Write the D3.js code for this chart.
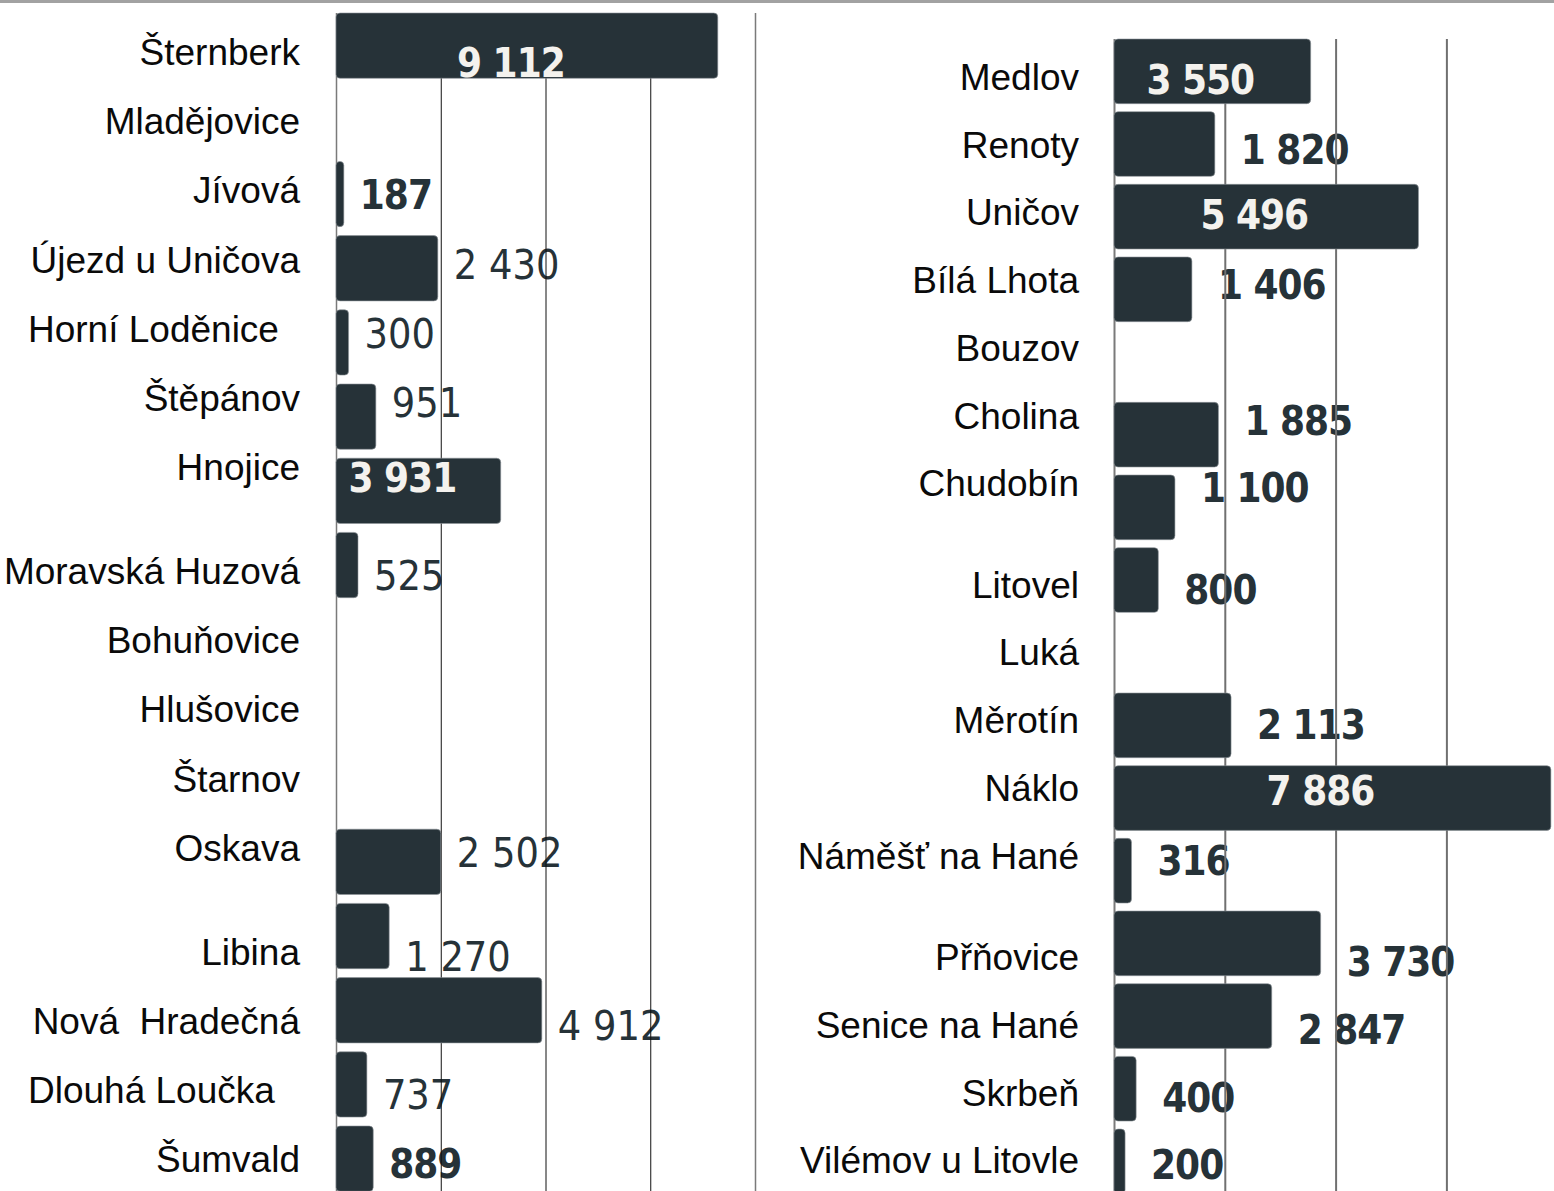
<!DOCTYPE html>
<html>
<head>
<meta charset="utf-8">
<script src="https://cdn.jsdelivr.net/npm/d3@7"></script>
<style>
  html, body { margin: 0; padding: 0; background: #fff; }
  svg { display: block; }
  .cat { font-family: "Liberation Sans", Arial, sans-serif; font-size: 37px; fill: #0a0a0a; white-space: pre; }
  .val { font-family: "DejaVu Sans Condensed", "DejaVu Sans", sans-serif; font-stretch: condensed; }
</style>
</head>
<body>
<div id="chart"></div>
<script>
(function () {

  // Data ---------------------------------------------------------
  const LEFT_NAMES = ["Šternberk", "Mladějovice", "Jívová", "Újezd u Uničova", "Horní Loděnice",
    "Štěpánov", "Hnojice", "Moravská Huzová", "Bohuňovice", "Hlušovice", "Štarnov", "Oskava",
    "Libina", "Nová  Hradečná", "Dlouhá Loučka", "Šumvald"];
  const LEFT_VALUES = [9112, null, 187, 2430, 300, 951, 3931, 525, null, null, null, 2502,
    1270, 4912, 737, 889];
  const LEFT_TICKS = [0, 2500, 5000, 7500, 10000];

  const RIGHT_NAMES = ["Medlov", "Renoty", "Uničov", "Bílá Lhota", "Bouzov", "Cholina",
    "Chudobín", "Litovel", "Luká", "Měrotín", "Náklo", "Náměšť na Hané", "Přňovice",
    "Senice na Hané", "Skrbeň", "Vilémov u Litovle"];
  const RIGHT_VALUES = [3550, 1820, 5496, 1406, null, 1885, 1100, 800, null, 2113, 7886,
    316, 3730, 2847, 400, 200];
  const RIGHT_TICKS = [0, 2000, 4000, 6000, 8000];

  // label styling / layout (not data)
  const LEFT_INSIDE = ["Šternberk", "Hnojice"];
  const LEFT_BOLD = ["Jívová", "Šumvald"];
  const LEFT_LABEL_GAPS = ["Moravská Huzová", "Libina"];
  const LEFT_ALIGNED = ["Horní Loděnice", "Dlouhá Loučka"];
  const RIGHT_INSIDE = ["Medlov", "Uničov", "Náklo"];
  const RIGHT_LABEL_GAPS = ["Litovel", "Přňovice"];

  const W = 1554, H = 1191;
  const BAR = "#263238", WHITE = "#f4f2ee";
  const fmt = d3.formatLocale({ decimal: ",", thousands: " ", grouping: [3], currency: ["", ""] }).format(",d");

  const svg = d3.select("#chart").append("svg")
    .attr("width", W)
    .attr("height", H);

  // top border
  svg.append("rect")
    .attr("x", 0).attr("y", 0)
    .attr("width", W).attr("height", 3)
    .attr("fill", "#a2a2a2");

  const panels = [
    {
      names: LEFT_NAMES, values: LEFT_VALUES, ticks: LEFT_TICKS, max: 10000,
      inside: LEFT_INSIDE, bold: d => LEFT_BOLD.includes(d), gaps: LEFT_LABEL_GAPS, leftAligned: LEFT_ALIGNED,
      x0: 336, x1: 755, barTop: 13, step: 74.2, pad: 0.12,
      labelTop: 52, labelStep: 69.2, labelRight: 300, labelLeft: 28, gap: 16,
      insideDy: 25, insideDx: -16,
      grid: "#111", gridW: 1, edge: "#7a7a7a", edgeW: 1.5
    },
    {
      names: RIGHT_NAMES, values: RIGHT_VALUES, ticks: RIGHT_TICKS, max: 8000,
      inside: RIGHT_INSIDE, bold: () => true, gaps: RIGHT_LABEL_GAPS, leftAligned: [],
      x0: 1114, x1: 1557.2, barTop: 39, step: 72.67, pad: 0.11,
      labelTop: 77, labelStep: 67.7, labelRight: 1079, labelLeft: 0, gap: 26,
      insideDy: 17, insideDx: -12,
      grid: "#707070", gridW: 2, edge: "#7a7a7a", edgeW: 2
    }
  ];

  panels.forEach(drawPanel);

  function drawPanel(p) {
    const g = svg.append("g");
    const rows = p.names.map((name, i) => ({ name, value: p.values[i] }));

    const x = d3.scaleLinear().domain([0, p.max]).range([p.x0, p.x1]);

    const off = p.pad / 2 * p.step;
    const y = d3.scaleBand()
      .domain(p.names)
      .range([p.barTop - off, p.barTop - off + p.names.length * p.step])
      .paddingInner(p.pad)
      .paddingOuter(p.pad / 2);

    // label rows: own spacing with half-row breaks
    let slot = -1;
    const slots = new Map();
    p.names.forEach(n => {
      slot += p.gaps.includes(n) ? 1.5 : 1;
      slots.set(n, slot);
    });
    const ly = d3.scaleLinear().domain([0, 1]).range([p.labelTop, p.labelTop + p.labelStep]);
    const rowY = n => ly(slots.get(n));

    // category labels
    g.selectAll("text.cat")
      .data(rows)
      .enter()
      .append("text")
      .attr("class", "cat")
      .attr("xml:space", "preserve")
      .attr("x", d => p.leftAligned.includes(d.name) ? p.labelLeft : p.labelRight)
      .attr("y", d => rowY(d.name) + 13)
      .attr("text-anchor", d => p.leftAligned.includes(d.name) ? "start" : "end")
      .text(d => d.name);

    const withVal = rows.filter(d => d.value != null);
    const outside = withVal.filter(d => !p.inside.includes(d.name));
    const inside = withVal.filter(d => p.inside.includes(d.name));

    // outside value labels (under the grid lines)
    g.selectAll("text.out")
      .data(outside)
      .enter()
      .append("text")
      .attr("class", "val out")
      .attr("x", d => x(d.value) + p.gap)
      .attr("y", d => rowY(d.name) + 4 + (p.bold(d.name) ? 15 : 15))
      .style("font-size", d => p.bold(d.name) ? "40px" : "41px")
      .style("font-weight", d => p.bold(d.name) ? 700 : 400)
      .style("letter-spacing", d => p.bold(d.name) ? "-1px" : "0px")
      .attr("fill", BAR)
      .text(d => fmt(d.value));

    // grid lines
    const axis = d3.axisBottom(x)
      .tickValues(p.ticks)
      .tickSize(-(H - p.barTop))
      .tickFormat("");
    g.append("g")
      .attr("transform", `translate(0,${H})`)
      .call(axis)
      .call(a => a.select(".domain").remove())
      .selectAll(".tick line")
      .attr("stroke", d => (d === 0 || d === p.max) ? p.edge : p.grid)
      .attr("stroke-width", d => (d === 0 || d === p.max) ? p.edgeW : p.gridW);

    // bars
    g.selectAll("rect.bar")
      .data(withVal)
      .enter()
      .append("rect")
      .attr("class", "bar")
      .attr("x", x(0))
      .attr("y", d => y(d.name))
      .attr("width", d => x(d.value) - x(0))
      .attr("height", y.bandwidth())
      .attr("rx", 4)
      .attr("fill", BAR)
      .attr("stroke", "#8d9599")
      .attr("stroke-opacity", 0.6)
      .attr("stroke-width", 1);

    // values inside bars
    g.selectAll("text.in")
      .data(inside)
      .enter()
      .append("text")
      .attr("class", "val in")
      .attr("x", d => (x(0) + x(d.value)) / 2 + p.insideDx)
      .attr("y", d => rowY(d.name) + p.insideDy)
      .attr("text-anchor", "middle")
      .style("font-size", "40px")
      .style("font-weight", 700)
      .style("letter-spacing", "-1px")
      .attr("fill", WHITE)
      .text(d => fmt(d.value));
  }

})();
</script>
</body>
</html>
